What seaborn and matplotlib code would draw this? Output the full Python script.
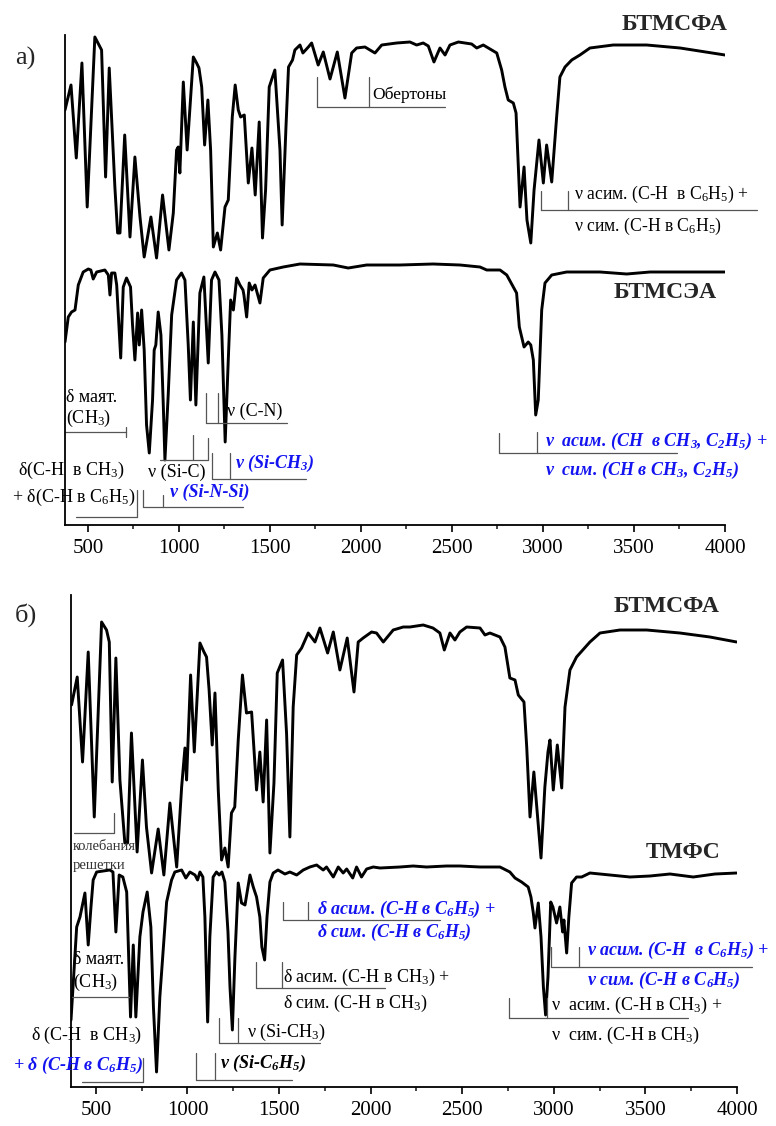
import matplotlib
matplotlib.use('Agg')
import matplotlib.pyplot as plt
import seaborn as sns
from matplotlib.ticker import MultipleLocator

# ---------------- data (wavenumber, cm-1 ; transmittance, arb. units with offset) ----------------
wn_a_btmspa = [374, 407, 436, 467, 496, 538, 575, 597, 617, 648, 663, 676, 702, 731, 758, 786, 809, 846, 877,
               910, 945, 969, 987, 996, 1005, 1024, 1045, 1079, 1097, 1110, 1125, 1141, 1159, 1174, 1189, 1211,
               1229, 1253, 1271, 1293, 1309, 1326, 1339, 1359, 1381, 1401, 1419, 1441, 1459, 1476, 1496, 1527,
               1555, 1567, 1588, 1602, 1624, 1637, 1665, 1681, 1711, 1729, 1765, 1793, 1830, 1870, 1912, 1949,
               1976, 2022, 2077, 2114, 2196, 2269, 2306, 2342, 2370, 2401, 2434, 2462, 2489, 2535, 2608, 2636,
               2672, 2709, 2746, 2773, 2791, 2809, 2837, 2852, 2874, 2896, 2912, 2933, 2951, 2978, 3002, 3020,
               3048, 3075, 3093, 3121, 3158, 3203, 3258, 3386, 3570, 3753, 4000]
t_a_btmspa = [415, 440, 367, 462, 318, 488, 475, 348, 457, 338, 292, 292, 390, 288, 368, 308, 268, 308, 267,
              330, 275, 312, 375, 378, 352, 443, 375, 468, 462, 457, 438, 380, 425, 375, 278, 292,
              275, 318, 325, 408, 440, 415, 408, 410, 342, 377, 330, 403, 287, 335, 438, 455,
              375, 300, 398, 458, 465, 475, 480, 472, 478, 482, 460, 473, 446, 473, 427, 472,
              477, 478, 472, 480, 482, 483, 480, 482, 479, 463, 477, 470, 480, 483, 481, 477,
              480, 476, 472, 455, 438, 425, 422, 412, 318, 358, 305, 282, 335, 385, 342, 380,
              343, 408, 448, 458, 465, 470, 477, 480, 480, 477, 470]

wn_a_btmsea = [374, 392, 410, 429, 447, 474, 502, 516, 529, 548, 593, 612, 621, 630, 648, 658, 680, 694, 712,
               734, 745, 758, 773, 782, 795, 809, 822, 837, 855, 864, 873, 886, 901, 914, 923, 941, 960, 987,
               1014, 1033, 1051, 1063, 1079, 1093, 1115, 1137, 1161, 1179, 1198, 1220, 1236, 1254, 1271, 1284,
               1299, 1317, 1335, 1352, 1357, 1372, 1386, 1401, 1418, 1445, 1463, 1500, 1573, 1665, 1848, 1930,
               2031, 2214, 2396, 2544, 2654, 2691, 2764, 2801, 2837, 2855, 2870, 2896, 2919, 2933, 2947, 2960,
               2974, 2993, 3011, 3048, 3130, 3313, 3460, 3588, 3753, 4000]
t_a_btmsea = [183, 208, 213, 215, 240, 253, 256, 255, 246, 253, 255, 250, 230, 252, 252, 240, 167, 238, 247,
              238, 200, 165, 212, 180, 215, 175, 100, 72, 125, 175, 180, 213, 190, 120, 65, 130, 210, 245,
              252, 245, 180, 125, 203, 120, 232, 248, 162, 245, 253, 245, 190, 83, 165, 225,
              215, 247, 240, 235, 230, 208, 242, 235, 240, 222, 247, 255, 258, 261, 260, 257,
              260, 260, 261, 260, 258, 255, 255, 250, 238, 232, 198, 178, 183, 180, 165, 110,
              125, 215, 242, 250, 253, 253, 251, 253, 253, 253]

wn_b_btmspa = [367, 398, 427, 458, 491, 531, 558, 573, 589, 609, 631, 658, 673, 694, 725, 754, 776, 804, 840,
               871, 904, 941, 968, 986, 995, 1017, 1037, 1068, 1090, 1104, 1118, 1135, 1150, 1168, 1186, 1204,
               1222, 1240, 1258, 1277, 1300, 1322, 1350, 1377, 1395, 1413, 1432, 1450, 1472, 1490, 1519, 1541,
               1559, 1577, 1596, 1623, 1659, 1696, 1723, 1765, 1796, 1832, 1872, 1909, 1932, 1959, 2005, 2032,
               2069, 2123, 2178, 2214, 2287, 2340, 2378, 2402, 2433, 2460, 2487, 2524, 2597, 2624, 2651, 2706,
               2733, 2760, 2788, 2806, 2837, 2852, 2870, 2891, 2930, 2951, 2968, 2979, 2997, 3019, 3043, 3061,
               3088, 3124, 3197, 3252, 3361, 3507, 3688, 3852, 3998]
t_b_btmspa = [382, 410, 325, 435, 270, 465, 457, 445, 305, 429, 307, 244, 244, 354, 235, 327, 260, 214, 258,
              212, 284, 220, 300, 339, 307, 412, 335, 444, 435, 430, 397, 342, 394, 297, 227, 239,
              220, 274, 280, 347, 412, 374, 375, 297, 335, 285, 367, 234, 304, 414, 427, 353,
              250, 380, 432, 439, 454, 445, 459, 434, 455, 417, 449, 395, 445, 449, 455, 454,
              445, 457, 460, 460, 462, 459, 454, 437, 454, 447, 455, 460, 459, 452, 454, 450,
              440, 409, 407, 392, 385, 340, 270, 315, 229, 300, 335, 347, 297, 342, 299, 380,
              417, 430, 445, 454, 457, 457, 454, 450, 445]

wn_b_tmps = [364, 395, 413, 440, 458, 473, 485, 504, 576, 593, 609, 627, 647, 668, 689, 704, 718, 740, 757,
             780, 800, 814, 831, 849, 886, 913, 931, 968, 991, 1013, 1041, 1055, 1068, 1084, 1095, 1110, 1122,
             1140, 1158, 1173, 1188, 1204, 1221, 1232, 1245, 1259, 1277, 1295, 1314, 1332, 1341, 1359, 1377,
             1395, 1406, 1421, 1434, 1450, 1468, 1494, 1532, 1559, 1596, 1632, 1668, 1705, 1741, 1759, 1796,
             1823, 1850, 1869, 1902, 1923, 1950, 1978, 2014, 2051, 2160, 2232, 2305, 2414, 2487, 2597, 2706,
             2760, 2788, 2824, 2860, 2875, 2888, 2897, 2915, 2930, 2943, 2955, 2968, 2983, 2995, 3015, 3033,
             3048, 3055, 3070, 3082, 3097, 3124, 3152, 3197, 3306, 3416, 3525, 3634, 3761, 3880, 3998]
t_b_tmps = [67, 160, 170, 194, 142, 180, 207, 215, 217, 215, 155, 212, 210, 195, 70, 142, 70, 150, 175,
            195, 160, 80, 15, 90, 185, 207, 215, 217, 209, 215, 212, 207, 215, 210, 170, 65, 150,
            210, 215, 212, 215, 205, 155, 100, 57, 130, 204, 184, 182, 202, 212, 200, 190,
            170, 140, 127, 170, 205, 214, 217, 213, 215, 212, 217, 220, 222, 217, 220, 210,
            220, 214, 218, 209, 220, 210, 218, 220, 219, 220, 221, 220, 221, 221, 220, 220,
            215, 209, 205, 200, 190, 174, 159, 184, 150, 100, 72, 110, 185, 180, 164, 180,
            155, 167, 134, 170, 204, 210, 210, 214, 212, 210, 211, 213, 210, 213, 214]

# ---------------- style ----------------
sns.set_theme(style='ticks')
plt.rcParams['font.family'] = ['Liberation Serif', 'DejaVu Serif']
plt.rcParams['mathtext.fontset'] = 'custom'
plt.rcParams['mathtext.rm'] = 'Liberation Serif'
plt.rcParams['mathtext.it'] = 'Liberation Serif:italic'
plt.rcParams['mathtext.bf'] = 'Liberation Serif:italic:bold'

BLUE = '#1414f0'
GRAY = '#555555'
FS = 13

fig = plt.figure(figsize=(7.76, 11.26), dpi=100)
ax_a = fig.add_axes([65 / 776, 1 - 525 / 1126, 660 / 776, 490 / 1126])
ax_b = fig.add_axes([71 / 776, 1 - 1087 / 1126, 666 / 776, 492 / 1126])

for ax, xmin, ymax in [(ax_a, 374, 490), (ax_b, 364, 492)]:
    ax.set_xlim(xmin, 4000)
    ax.set_ylim(0, ymax)
    for s in ['top', 'right']:
        ax.spines[s].set_visible(False)
    for s in ['left', 'bottom']:
        ax.spines[s].set_linewidth(1.3)
        ax.spines[s].set_color('black')
    ax.set_yticks([])
    ax.set_xticks(list(range(500, 4001, 500)))
    ax.xaxis.set_minor_locator(MultipleLocator(250))
    ax.tick_params(axis='x', which='major', direction='out', length=5, width=1.2,
                   labelsize=15, pad=5, colors='black', bottom=True)
    ax.tick_params(axis='x', which='minor', direction='out', length=3, width=1.2, bottom=True)
    ax.patch.set_alpha(0)


def spectrum(ax, wn, t):
    sns.lineplot(x=wn, y=t, ax=ax, color='black', linewidth=2.1, sort=False, estimator=None,
                 solid_joinstyle='round', solid_capstyle='round')


spectrum(ax_a, wn_a_btmspa, t_a_btmspa)
spectrum(ax_a, wn_a_btmsea, t_a_btmsea)
spectrum(ax_b, wn_b_btmspa, t_b_btmspa)
spectrum(ax_b, wn_b_tmps, t_b_tmps)
for ax in (ax_a, ax_b):
    ax.set_xlabel('')
    ax.set_ylabel('')


def bracket(ax, x0, x1, y, ticks):
    ax.plot([x0, x1], [y, y], color=GRAY, lw=0.9, clip_on=False)
    for tx, ty in ticks:
        ax.plot([tx, tx], [y, ty], color=GRAY, lw=0.9, clip_on=False)


def label(ax, x, y, s, color='black', bold=False, size=FS, ha='left'):
    ax.text(x, y, s, ha=ha, va='center', fontsize=size, color=color,
            fontweight='bold' if bold else 'normal', fontstyle='italic' if bold else 'normal')


# ---------------- panel a annotations ----------------
bracket(ax_a, 1757, 2462, 418, [(1757, 448), (2046, 448)])
label(ax_a, 2061, 430, 'Обертоны', size=12.5)

bracket(ax_a, 2988, 4176, 315, [(2988, 334), (3139, 334)])
label(ax_a, 3171, 331, 'ν асим. (С-Н  в C$_6$H$_5$) +', size=12.7)
label(ax_a, 3171, 299, 'ν сим. (С-Н в C$_6$H$_5$)', size=12.7)

bracket(ax_a, 374, 709, 93, [(709, 98), (709, 88)])
label(ax_a, 380, 127, 'δ маят.')
label(ax_a, 380, 107, '(CH$_3$)')

bracket(ax_a, 1150, 1594, 102, [(1150, 132), (1216, 132)])
label(ax_a, 1264, 114, 'ν (C-N)')

bracket(ax_a, 896, 1161, 65, [(1079, 90), (1161, 87)])
label(ax_a, 987, 53, 'ν (Si-C)', ha='center')

bracket(ax_a, 1183, 1698, 46, [(1183, 72), (1280, 72)])
label(ax_a, 1308, 62, 'ν (Si-CH$_\\mathbf{3}$)', color=BLUE, bold=True)

label(ax_a, 703, 55, 'δ(C-H  в CH$_3$)', ha='right')
label(ax_a, 760, 28, '+ δ(C-H в C$_6$H$_5$)', ha='right')
bracket(ax_a, 434, 768, 8, [(768, 35)])

bracket(ax_a, 804, 1353, 18, [(804, 35), (910, 30)])
label(ax_a, 951, 33, 'ν (Si-N-Si)', color=BLUE, bold=True)

bracket(ax_a, 2760, 3735, 72, [(2760, 92), (2969, 93)])
label(ax_a, 3011, 84, 'ν  асим. (CH  в CH$_\\mathbf{3}$, C$_\\mathbf{2}$H$_\\mathbf{5}$) +', color=BLUE, bold=True)
label(ax_a, 3011, 55, 'ν  сим. (CH в CH$_\\mathbf{3}$, C$_\\mathbf{2}$H$_\\mathbf{5}$)', color=BLUE, bold=True)

ax_a.text(4011, 500, 'БТМСФА', ha='right', va='center', fontsize=17, fontweight='bold')
ax_a.text(3956, 233, 'БТМСЭА', ha='right', va='center', fontsize=17, fontweight='bold')

# ---------------- panel b annotations ----------------
bracket(ax_b, 380, 598, 254, [(598, 274)])
ax_b.text(374, 240, 'колебания', ha='left', va='center', fontsize=10.5, color='#333333')
ax_b.text(374, 221, 'решетки', ha='left', va='center', fontsize=10.5, color='#333333')

bracket(ax_b, 1519, 2378, 167, [(1519, 185), (1659, 185)])
label(ax_b, 1705, 178, 'δ асим. (С-Н в C$_\\mathbf{6}$H$_\\mathbf{5}$) +', color=BLUE, bold=True)
label(ax_b, 1705, 155, 'δ сим. (С-Н в C$_\\mathbf{6}$H$_\\mathbf{5}$)', color=BLUE, bold=True)

bracket(ax_b, 1374, 2078, 99, [(1374, 125), (1514, 125)])
label(ax_b, 1519, 110, 'δ асим. (С-Н в CH$_3$) +')
label(ax_b, 1519, 84, 'δ сим. (С-Н в CH$_3$)')

bracket(ax_b, 369, 680, 90, [])
label(ax_b, 374, 127, 'δ маят.')
label(ax_b, 374, 105, '(CH$_3$)')

label(ax_b, 750, 52, 'δ (C-H  в CH$_3$)', ha='right')
label(ax_b, 757, 22, '+ δ (C-H в C$_\\mathbf{6}$H$_\\mathbf{5}$)', color=BLUE, bold=True, ha='right')
bracket(ax_b, 422, 758, 5, [(758, 29)])

bracket(ax_b, 1173, 1723, 44, [(1173, 69), (1277, 69)])
label(ax_b, 1323, 55, 'ν (Si-CH$_3$)')

bracket(ax_b, 1046, 1569, 7, [(1046, 34), (1150, 34)])
label(ax_b, 1177, 24, 'ν (Si-C$_\\mathbf{6}$H$_\\mathbf{5}$)', bold=True)

bracket(ax_b, 2983, 4080, 120, [(2983, 140), (3137, 140)])
label(ax_b, 3179, 137, 'ν асим. (C-H  в C$_\\mathbf{6}$H$_\\mathbf{5}$) +', color=BLUE, bold=True)
label(ax_b, 3179, 107, 'ν сим. (C-H в C$_\\mathbf{6}$H$_\\mathbf{5}$)', color=BLUE, bold=True)

bracket(ax_b, 2757, 3734, 69, [(2757, 89), (2960, 89)])
label(ax_b, 2985, 82, 'ν  асим. (С-Н в CH$_3$) +')
label(ax_b, 2985, 52, 'ν  сим. (С-Н в CH$_3$)')

ax_b.text(3907, 480, 'БТМСФА', ha='right', va='center', fontsize=17, fontweight='bold')
ax_b.text(3907, 234, 'ТМФС', ha='right', va='center', fontsize=17, fontweight='bold')

fig.text(15 / 776, 1 - 58 / 1126, 'а)', ha='left', va='center', fontsize=19)
fig.text(15 / 776, 1 - 615 / 1126, 'б)', ha='left', va='center', fontsize=19)

fig.savefig('out.png', dpi=100)
